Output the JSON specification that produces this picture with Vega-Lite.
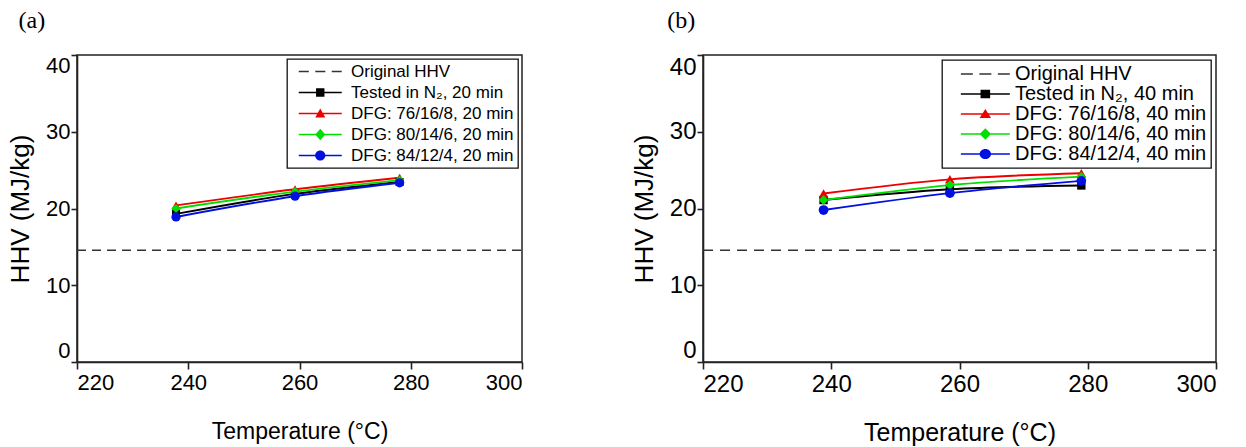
{
  "$schema": "https://vega.github.io/schema/vega-lite/v6.json",
  "background": "white",
  "padding": {"left": 6, "top": 8, "right": 0, "bottom": 0},
  "autosize": {"type": "pad"},
  "config": {
    "font": "Liberation Sans",
    "view": {"stroke": "#222", "strokeWidth": 1.5},
    "axis": {
      "grid": false,
      "domainColor": "#222",
      "domainWidth": 1.6,
      "tickColor": "#222",
      "tickWidth": 1.6,
      "tickSize": 7,
      "labelFont": "Liberation Sans",
      "labelColor": "black",
      "labelPadding": 3,
      "labelFlush": true,
      "titleFont": "Liberation Sans",
      "titleFontWeight": "normal",
      "titleColor": "black"
    },
    "legend": {
      "orient": "top-right",
      "strokeColor": "#111",
      "strokeWidth": 1.3,
      "fillColor": "white",
      "padding": 4,
      "labelFont": "Liberation Sans",
      "labelColor": "black",
      "labelLimit": 400,
      "symbolSize": 144,
      "symbolStrokeWidth": 0,
      "symbolOpacity": 1
    },
    "title": {
      "font": "Liberation Serif",
      "fontSize": 24,
      "fontWeight": "normal",
      "color": "black",
      "anchor": "start",
      "frame": "bounds",
      "offset": 21
    }
  },
  "datasets": {
    "original": [
      {"series": "Original HHV", "hhv": 14.55}
    ],
    "hhv20": [
      {"series": "Tested in N₂, 20 min", "temp": 237.8, "hhv": 19.3},
      {"series": "Tested in N₂, 20 min", "temp": 259.2, "hhv": 21.9},
      {"series": "Tested in N₂, 20 min", "temp": 278.0, "hhv": 23.45},
      {"series": "DFG: 76/16/8, 20 min", "temp": 237.8, "hhv": 20.4},
      {"series": "DFG: 76/16/8, 20 min", "temp": 259.2, "hhv": 22.5},
      {"series": "DFG: 76/16/8, 20 min", "temp": 278.0, "hhv": 24.0},
      {"series": "DFG: 80/14/6, 20 min", "temp": 237.8, "hhv": 20.0},
      {"series": "DFG: 80/14/6, 20 min", "temp": 259.2, "hhv": 22.2},
      {"series": "DFG: 80/14/6, 20 min", "temp": 278.0, "hhv": 23.7},
      {"series": "DFG: 84/12/4, 20 min", "temp": 237.8, "hhv": 18.9},
      {"series": "DFG: 84/12/4, 20 min", "temp": 259.2, "hhv": 21.6},
      {"series": "DFG: 84/12/4, 20 min", "temp": 278.0, "hhv": 23.35}
    ],
    "hhv40": [
      {"series": "Tested in N₂, 40 min", "temp": 238.8, "hhv": 21.1},
      {"series": "Tested in N₂, 40 min", "temp": 258.5, "hhv": 22.5},
      {"series": "Tested in N₂, 40 min", "temp": 279.0, "hhv": 23.0},
      {"series": "DFG: 76/16/8, 40 min", "temp": 238.8, "hhv": 21.95},
      {"series": "DFG: 76/16/8, 40 min", "temp": 258.5, "hhv": 23.8},
      {"series": "DFG: 76/16/8, 40 min", "temp": 279.0, "hhv": 24.6},
      {"series": "DFG: 80/14/6, 40 min", "temp": 238.8, "hhv": 21.1},
      {"series": "DFG: 80/14/6, 40 min", "temp": 258.5, "hhv": 23.05},
      {"series": "DFG: 80/14/6, 40 min", "temp": 279.0, "hhv": 24.15},
      {"series": "DFG: 84/12/4, 40 min", "temp": 238.8, "hhv": 19.8},
      {"series": "DFG: 84/12/4, 40 min", "temp": 258.5, "hhv": 22.0},
      {"series": "DFG: 84/12/4, 40 min", "temp": 279.0, "hhv": 23.6}
    ]
  },
  "spacing": 106,
  "resolve": {
    "scale": {"x": "independent", "y": "independent", "color": "independent", "shape": "independent"},
    "legend": {"color": "independent", "shape": "independent"}
  },
  "hconcat": [
    {
      "width": 445,
      "height": 307,
      "title": {"text": "(a)", "dx": 11},
      "data": {"name": "hhv20"},
      "encoding": {
        "x": {
          "field": "temp", "type": "quantitative",
          "scale": {"domain": [220, 300]},
          "axis": {"values": [220, 240, 260, 280, 300], "title": "Temperature (°C)", "labelFontSize": 22, "titleFontSize": 23, "titlePadding": 27}
        },
        "y": {
          "field": "hhv", "type": "quantitative",
          "scale": {"domain": [0, 40]},
          "axis": {"values": [0, 10, 20, 30, 40], "title": "HHV (MJ/kg)", "labelFontSize": 22, "titleFontSize": 26, "tickSize": 6, "labelPadding": 1, "titlePadding": 12}
        }
      },
      "layer": [
        {
          "mark": {"type": "point", "filled": true, "opacity": 0},
          "encoding": {
            "color": {
              "field": "series", "type": "nominal",
              "scale": {
                "domain": ["Original HHV", "Tested in N₂, 20 min", "DFG: 76/16/8, 20 min", "DFG: 80/14/6, 20 min", "DFG: 84/12/4, 20 min"],
                "range": ["#333333", "#000000", "#ee0000", "#00e000", "#0010e0"]
              },
              "legend": {"title": null, "orient": "top-right", "offset": 4, "labelFontSize": 17, "labelOffset": 43, "rowPadding": 3}
            },
            "shape": {
              "field": "series", "type": "nominal",
              "scale": {
                "domain": ["Original HHV", "Tested in N₂, 20 min", "DFG: 76/16/8, 20 min", "DFG: 80/14/6, 20 min", "DFG: 84/12/4, 20 min"],
                "range": [
                  "M-0.125,-0.13H1.55V0.13H-0.125ZM2.63,-0.13H4.3V0.13H2.63ZM5.37,-0.13H7.04V0.13H5.37Z",
                  "M-0.125,-0.13H7.04V0.13H-0.125ZM2.76,-0.7H4.16V0.7H2.76Z",
                  "M-0.125,-0.13H7.04V0.13H-0.125ZM3.46,-0.85L4.3,0.65H2.62Z",
                  "M-0.125,-0.13H7.04V0.13H-0.125ZM3.46,-0.95L4.3,0L3.46,0.95L2.62,0Z",
                  "M-0.125,-0.13H7.04V0.13H-0.125ZM2.61,0A0.85,0.85 0 1,1 4.31,0A0.85,0.85 0 1,1 2.61,0Z"
                ]
              },
              "legend": {"title": null, "orient": "top-right", "offset": 4, "labelFontSize": 17, "labelOffset": 43, "rowPadding": 3}
            }
          }
        },
        {
          "data": {"name": "original"},
          "mark": {"type": "rule", "strokeDash": [9, 6], "strokeWidth": 1.5, "color": "#333333"},
          "encoding": {
            "x": {"value": 0},
            "x2": {"value": 445},
            "y": {"field": "hhv", "type": "quantitative"}
          }
        },
        {
          "mark": {"type": "line", "interpolate": "monotone", "strokeWidth": 1.9},
          "encoding": {"color": {"field": "series", "type": "nominal"}}
        },
        {
          "transform": [{"filter": "datum.series === 'Tested in N₂, 20 min'"}],
          "mark": {"type": "point", "filled": true, "opacity": 1, "size": 64, "shape": "square"},
          "encoding": {"color": {"field": "series", "type": "nominal"}}
        },
        {
          "transform": [{"filter": "datum.series === 'DFG: 76/16/8, 20 min'"}],
          "mark": {"type": "point", "filled": true, "opacity": 1, "size": 85, "shape": "triangle-up"},
          "encoding": {"color": {"field": "series", "type": "nominal"}}
        },
        {
          "transform": [{"filter": "datum.series === 'DFG: 80/14/6, 20 min'"}],
          "mark": {"type": "point", "filled": true, "opacity": 1, "size": 85, "shape": "diamond"},
          "encoding": {"color": {"field": "series", "type": "nominal"}}
        },
        {
          "transform": [{"filter": "datum.series === 'DFG: 84/12/4, 20 min'"}],
          "mark": {"type": "point", "filled": true, "opacity": 1, "size": 85, "shape": "circle"},
          "encoding": {"color": {"field": "series", "type": "nominal"}}
        }
      ]
    },
    {
      "width": 513,
      "height": 307,
      "title": {"text": "(b)", "dx": 36},
      "data": {"name": "hhv40"},
      "encoding": {
        "x": {
          "field": "temp", "type": "quantitative",
          "scale": {"domain": [220, 300]},
          "axis": {"values": [220, 240, 260, 280, 300], "title": "Temperature (°C)", "labelFontSize": 24, "titleFontSize": 25, "titlePadding": 24}
        },
        "y": {
          "field": "hhv", "type": "quantitative",
          "scale": {"domain": [0, 40]},
          "axis": {"values": [0, 10, 20, 30, 40], "title": "HHV (MJ/kg)", "labelFontSize": 24, "titleFontSize": 26, "tickSize": 6, "labelPadding": 1, "titlePadding": 12}
        }
      },
      "layer": [
        {
          "mark": {"type": "point", "filled": true, "opacity": 0},
          "encoding": {
            "color": {
              "field": "series", "type": "nominal",
              "scale": {
                "domain": ["Original HHV", "Tested in N₂, 40 min", "DFG: 76/16/8, 40 min", "DFG: 80/14/6, 40 min", "DFG: 84/12/4, 40 min"],
                "range": ["#333333", "#000000", "#ee0000", "#00e000", "#0010e0"]
              },
              "legend": {"title": null, "orient": "top-right", "offset": 5, "labelFontSize": 20, "labelOffset": 49, "rowPadding": 0}
            },
            "shape": {
              "field": "series", "type": "nominal",
              "scale": {
                "domain": ["Original HHV", "Tested in N₂, 40 min", "DFG: 76/16/8, 40 min", "DFG: 80/14/6, 40 min", "DFG: 84/12/4, 40 min"],
                "range": [
                  "M0.81,-0.13H2.81V0.13H0.81ZM3.89,-0.13H5.89V0.13H3.89ZM6.975,-0.13H8.975V0.13H6.975Z",
                  "M0.81,-0.13H8.975V0.13H0.81ZM4.09,-0.7H5.69V0.7H4.09Z",
                  "M0.81,-0.13H8.975V0.13H0.81ZM4.89,-0.85L5.84,0.65H3.94Z",
                  "M0.81,-0.13H8.975V0.13H0.81ZM4.89,-0.95L5.84,0L4.89,0.95L3.94,0Z",
                  "M0.81,-0.13H8.975V0.13H0.81ZM3.94,0A0.95,0.85 0 1,1 5.84,0A0.95,0.85 0 1,1 3.94,0Z"
                ]
              },
              "legend": {"title": null, "orient": "top-right", "offset": 5, "labelFontSize": 20, "labelOffset": 49, "rowPadding": 0}
            }
          }
        },
        {
          "data": {"name": "original"},
          "mark": {"type": "rule", "strokeDash": [10, 7], "strokeWidth": 1.5, "color": "#333333"},
          "encoding": {
            "x": {"value": 0},
            "x2": {"value": 513},
            "y": {"field": "hhv", "type": "quantitative"}
          }
        },
        {
          "mark": {"type": "line", "interpolate": "monotone", "strokeWidth": 1.9},
          "encoding": {"color": {"field": "series", "type": "nominal"}}
        },
        {
          "transform": [{"filter": "datum.series === 'Tested in N₂, 40 min'"}],
          "mark": {"type": "point", "filled": true, "opacity": 1, "size": 70, "shape": "square"},
          "encoding": {"color": {"field": "series", "type": "nominal"}}
        },
        {
          "transform": [{"filter": "datum.series === 'DFG: 76/16/8, 40 min'"}],
          "mark": {"type": "point", "filled": true, "opacity": 1, "size": 95, "shape": "triangle-up"},
          "encoding": {"color": {"field": "series", "type": "nominal"}}
        },
        {
          "transform": [{"filter": "datum.series === 'DFG: 80/14/6, 40 min'"}],
          "mark": {"type": "point", "filled": true, "opacity": 1, "size": 95, "shape": "diamond"},
          "encoding": {"color": {"field": "series", "type": "nominal"}}
        },
        {
          "transform": [{"filter": "datum.series === 'DFG: 84/12/4, 40 min'"}],
          "mark": {"type": "point", "filled": true, "opacity": 1, "size": 95, "shape": "circle"},
          "encoding": {"color": {"field": "series", "type": "nominal"}}
        }
      ]
    }
  ]
}
